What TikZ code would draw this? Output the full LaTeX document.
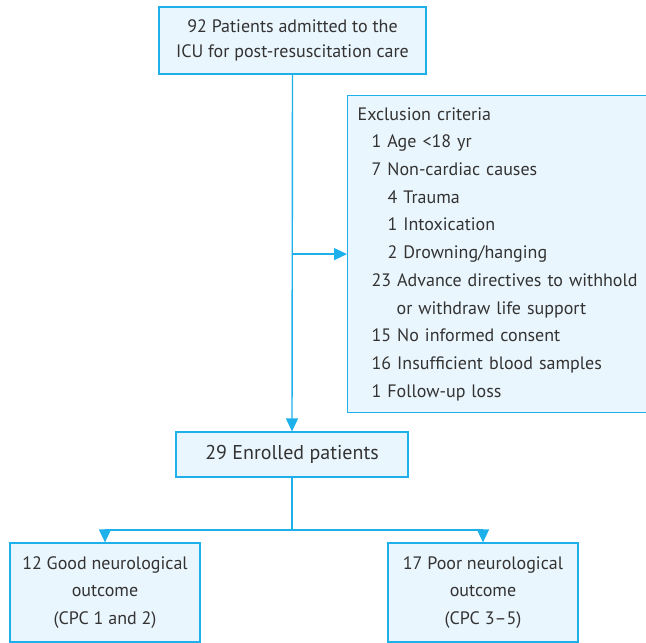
\documentclass[tikz,border=0pt]{standalone}
\usepackage{fontspec}
\setmainfont{PT Sans}
\usetikzlibrary{positioning}
\usetikzlibrary{arrows.meta}
\definecolor{boxline}{HTML}{1EB0EA}
\definecolor{boxfill}{HTML}{EAF6FD}
\definecolor{boxtext}{HTML}{333333}

\begin{document}
\begin{tikzpicture}[x=1pt, y=-1pt, >={Triangle[length=13pt,width=12pt]},
    box/.style={draw=boxline, fill=boxfill, line width=1.2pt, text=boxtext, rectangle, align=center, inner sep=0pt, font=\fontsize{18}{27.7}\selectfont},
    link/.style={draw=boxline, line width=1.4pt}]
        \useasboundingbox (0,0) rectangle (646,643);
        % Admitted patients
        \node[box, minimum width=267pt, minimum height=67pt, font=\fontsize{18}{25}\selectfont] (admitted) at (292.5,40.5) {92 Patients admitted to the\\ICU for post-resuscitation care};
        % Exclusion criteria
        \node[box, align=left, anchor=north west, minimum width=320pt, minimum height=317pt, text width=300pt, inner xsep=10pt] (excluded) at (347,95) {Exclusion criteria\\
            \hspace*{14pt}1 Age <18 yr\\
            \hspace*{14pt}7 Non-cardiac causes\\
            \hspace*{30pt}4 Trauma\\
            \hspace*{30pt}1 Intoxication\\
            \hspace*{30pt}2 Drowning/hanging\\
            \hspace*{14pt}23 Advance directives to withhold\\
            \hspace*{39pt}or withdraw life support\\
            \hspace*{14pt}15 No informed consent\\
            \hspace*{14pt}16 Insufficient blood samples\\
            \hspace*{14pt}1 Follow-up loss};
        % Enrolled patients
        \node[box, minimum width=232pt, minimum height=45pt, font=\fontsize{20}{24}\selectfont] (enrolled) at (292,454.5) {29 Enrolled patients};
        % Good outcome
        \node[box, minimum width=190pt, minimum height=99pt] (good) at (105,592.5) {12 Good neurological\\outcome\\(CPC 1 and 2)};
        % Poor outcome
        \node[box, minimum width=190pt, minimum height=99pt] (poor) at (483,592.5) {17 Poor neurological\\outcome\\(CPC 3--5)};
        % Arrows
        \coordinate (split) at (admitted.south |- excluded.west);
        \coordinate (fork) at (292,530);
        \draw[link, ->] (admitted.south) -- (enrolled.north);
        \draw[link, ->] (split) -- (excluded.west);
        \draw[link] (enrolled.south) -- (fork);
        \draw[link, ->] (fork) -| (good.north);
        \draw[link, ->] (fork) -| (poor.north);
    \end{tikzpicture}
\end{document}
